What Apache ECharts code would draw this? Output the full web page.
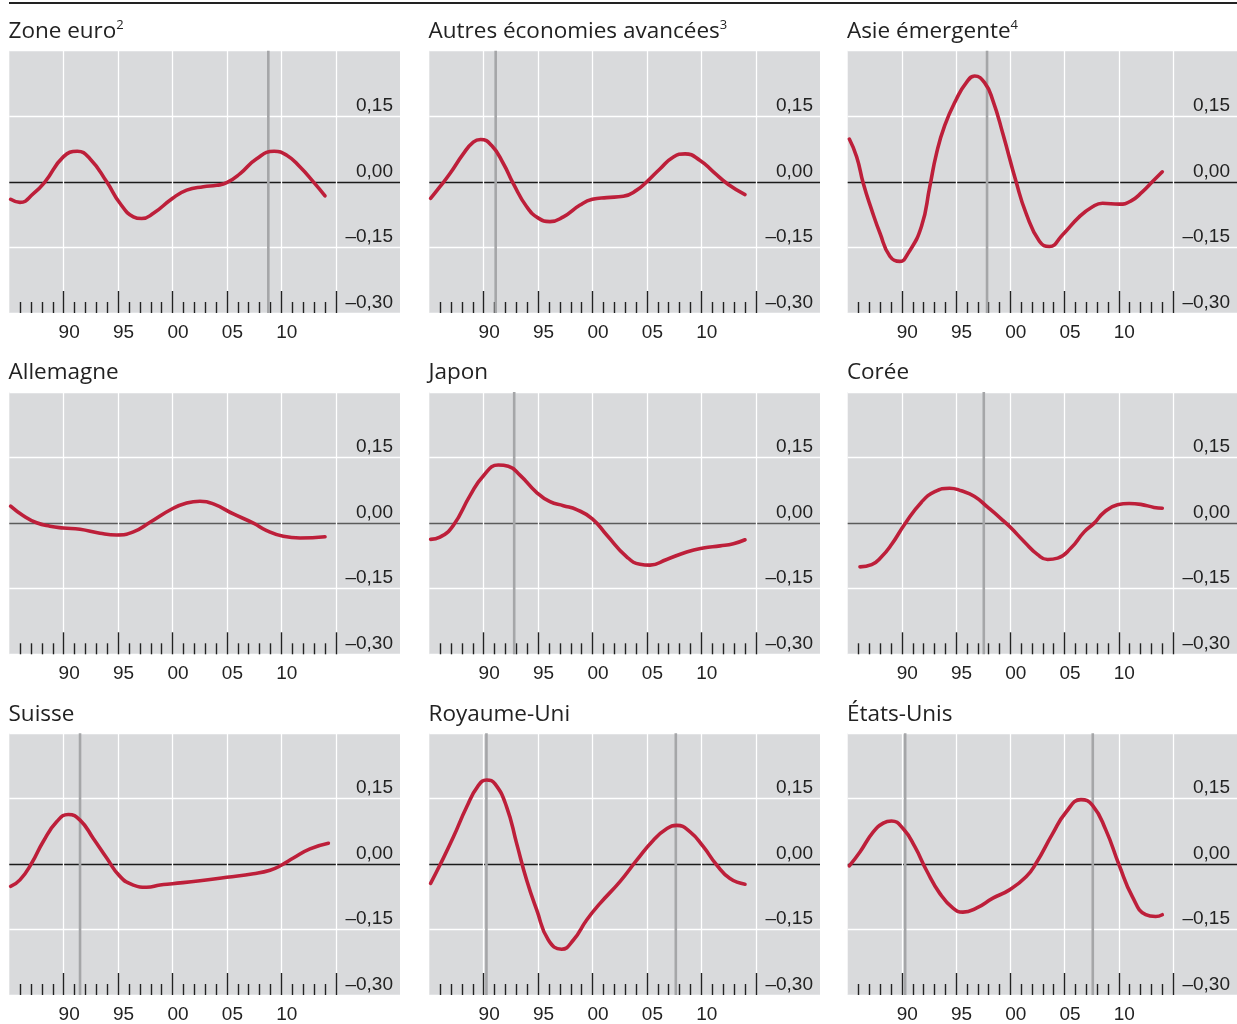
<!DOCTYPE html>
<html>
<head>
<meta charset="utf-8">
<script src="https://cdn.jsdelivr.net/npm/echarts@6/dist/echarts.min.js"></script>
<style>
html,body{margin:0;padding:0;background:#fff;}
#chart{width:1237px;height:1024px;}
</style>
</head>
<body>
<div id="chart"></div>
<script>
// ---------- DATA (year, value) ----------
const ZONE_EURO = [[1985.12,-0.040],[1985.98,-0.047],[1987.21,-0.027],[1988.28,0.000],[1989.96,0.057],[1991.25,0.070],
  [1992.41,0.053],[1993.95,0.000],[1995.17,-0.049],[1996.40,-0.080],[1997.16,-0.084],[1998.24,-0.072],[1999.98,-0.038],
  [2001.30,-0.019],[2002.83,-0.011],[2004.06,-0.008],[2004.98,-0.002],[2006.21,0.019],[2007.73,0.053],[2009.33,0.070],
  [2010.49,0.061],[2011.72,0.034],[2012.94,0.000],[2014.01,-0.032]];
const AUTRES = [[1985.12,-0.038],[1985.98,-0.011],[1986.90,0.019],[1988.12,0.064],[1989.04,0.091],[1989.72,0.097],
  [1990.73,0.083],[1991.80,0.042],[1992.72,-0.004],[1993.95,-0.057],[1995.02,-0.083],[1996.09,-0.091],[1997.32,-0.080],
  [1998.85,-0.053],[1999.98,-0.040],[2001.30,-0.036],[2002.83,-0.033],[2004.06,-0.019],[2004.98,0.000],[2006.21,0.030],
  [2007.43,0.057],[2008.50,0.064],[2009.88,0.049],[2011.10,0.023],[2012.48,-0.006],[2014.01,-0.029]];
const ASIE = [[1985.15,0.098],[1985.83,0.057],[1986.44,-0.004],[1987.21,-0.064],[1987.97,-0.117],[1988.89,-0.170],
  [1989.81,-0.182],[1990.58,-0.163],[1991.80,-0.102],[1992.57,-0.011],[1993.18,0.064],[1993.95,0.129],[1995.02,0.189],
  [1995.94,0.227],[1996.70,0.242],[1997.62,0.227],[1998.39,0.186],[1999.31,0.110],[2000.53,0.000],[2001.45,-0.072],
  [2002.68,-0.136],[2003.60,-0.148],[2004.82,-0.121],[2006.35,-0.080],[2007.58,-0.057],[2008.50,-0.049],[2010.03,-0.051],
  [2011.10,-0.044],[2012.17,-0.023],[2013.09,0.000],[2014.01,0.023]];
const ALLEMAGNE = [[1985.12,0.039],[1986.29,0.017],[1987.51,0.001],[1988.74,-0.007],[1989.96,-0.011],[1991.50,-0.014],
  [1993.33,-0.023],[1994.87,-0.027],[1996.40,-0.020],[1997.93,0.002],[1999.98,0.033],[2001.30,0.046],[2002.52,0.050],
  [2003.75,0.044],[2005.59,0.021],[2007.43,0.000],[2008.65,-0.017],[2010.18,-0.030],[2011.72,-0.034],[2014.01,-0.031]];
const JAPON = [[1985.12,-0.037],[1985.98,-0.032],[1987.21,-0.005],[1988.74,0.063],[1989.96,0.108],[1991.34,0.133],
  [1992.26,0.130],[1993.33,0.110],[1994.87,0.070],[1996.09,0.049],[1997.32,0.040],[1998.54,0.031],[1999.98,0.010],
  [2001.30,-0.027],[2003.14,-0.077],[2004.36,-0.094],[2005.28,-0.096],[2006.81,-0.083],[2008.65,-0.066],[2010.18,-0.057],
  [2011.72,-0.052],[2012.94,-0.047],[2014.01,-0.038]];
const COREE = [[1986.13,-0.100],[1987.21,-0.095],[1988.12,-0.077],[1989.04,-0.049],[1990.27,-0.002],[1991.80,0.048],
  [1993.03,0.072],[1994.41,0.080],[1995.48,0.074],[1996.70,0.061],[1997.93,0.036],[1999.15,0.010],[1999.98,-0.009],
  [2001.30,-0.043],[2002.52,-0.072],[2003.44,-0.083],[2004.36,-0.080],[2005.59,-0.057],[2006.81,-0.020],[2007.73,0.000],
  [2008.65,0.025],[2009.88,0.042],[2010.95,0.045],[2012.02,0.043],[2013.25,0.036],[2014.01,0.034]];
const SUISSE = [[1985.12,-0.051],[1985.98,-0.036],[1987.05,0.002],[1988.12,0.052],[1989.35,0.097],[1990.42,0.114],
  [1991.50,0.101],[1992.72,0.059],[1993.95,0.014],[1995.17,-0.028],[1996.40,-0.048],[1997.62,-0.053],[1998.85,-0.048],
  [1999.98,-0.045],[2002.52,-0.038],[2004.98,-0.030],[2007.43,-0.022],[2008.96,-0.014],[2010.03,-0.002],[2011.10,0.014],
  [2012.63,0.035],[2014.32,0.048]];
const ROYAUME_UNI = [[1985.12,-0.044],[1985.98,-0.002],[1987.21,0.062],[1988.43,0.131],[1989.50,0.180],[1990.27,0.193],
  [1991.04,0.184],[1992.11,0.131],[1993.03,0.047],[1993.95,-0.037],[1994.87,-0.105],[1995.94,-0.174],[1997.16,-0.195],
  [1998.24,-0.174],[1999.46,-0.128],[2000.69,-0.090],[2002.52,-0.040],[2004.06,0.009],[2005.59,0.055],[2006.81,0.081],
  [2007.73,0.089],[2008.96,0.074],[2010.18,0.040],[2011.41,-0.002],[2012.63,-0.033],[2014.01,-0.046]];
const ETATS_UNIS = [[1985.15,-0.004],[1986.13,0.028],[1987.36,0.074],[1988.28,0.094],[1989.04,0.099],[1990.12,0.081],
  [1991.19,0.040],[1992.26,-0.014],[1993.49,-0.067],[1994.71,-0.101],[1995.63,-0.110],[1996.86,-0.101],[1998.39,-0.078],
  [1999.92,-0.059],[2001.45,-0.029],[2002.37,0.002],[2003.90,0.070],[2005.13,0.119],[2006.51,0.148],[2007.58,0.135],
  [2008.81,0.078],[2010.03,-0.002],[2011.26,-0.075],[2012.48,-0.116],[2013.40,-0.120],[2014.01,-0.116]];

// vertical grey marker lines (years)
const EV_ZONE_EURO = [2008.8];
const EV_AUTRES = [1991.1];
const EV_ASIE = [1997.85];
const EV_ALLEMAGNE = [];
const EV_JAPON = [1992.8];
const EV_COREE = [1997.55];
const EV_SUISSE = [1991.5];
const EV_ROYAUME_UNI = [1990.25, 2007.65];
const EV_ETATS_UNIS = [1990.3, 2007.6];

const TITLES = ['Zone euro{sup|2}','Autres économies avancées{sup|3}','Asie émergente{sup|4}',
                'Allemagne','Japon','Corée','Suisse','Royaume-Uni','États-Unis'];

const MAJOR_TICKS = [1990,1995,2000,2005,2010,2015];
const MINOR_TICKS = [1986,1987,1988,1989,1991,1992,1993,1994,1996,1997,1998,1999,
                     2001,2002,2003,2004,2006,2007,2008,2009,2011,2012,2013,2014];
const LABEL_YEARS = [1990,1995,2000,2005,2010];

// ---------- LAYOUT ----------
const SERIES_VALUES = [ZONE_EURO,AUTRES,ASIE,ALLEMAGNE,JAPON,COREE,SUISSE,ROYAUME_UNI,ETATS_UNIS];
const EVENTS = [EV_ZONE_EURO,EV_AUTRES,EV_ASIE,EV_ALLEMAGNE,EV_JAPON,EV_COREE,EV_SUISSE,EV_ROYAUME_UNI,EV_ETATS_UNIS];
const COL_LEFT = [9.3, 429.3, 847.7];
const ROW_TOP = [50.7, 392, 733.3];
const W = 390.7, H = 262.3;
const XMIN = 1985, XMAX = 2020.9;
const RED = '#bd1f3a';
const AXIS_FONT = 'Liberation Sans, Arial, sans-serif';
const TITLE_FONT = 'Open Sans, Noto Sans, sans-serif';

const grids = [], xAxes = [], yAxes = [], series = [], titles = [];

for (let i = 0; i < 9; i++) {
  const c = i % 3, r = Math.floor(i / 3);
  grids.push({left: COL_LEFT[c], top: ROW_TOP[r], width: W, height: H,
              show: true, backgroundColor: '#d9dadc', borderWidth: 0});
  const tickStyle = {color: '#222', width: 1.4};
  xAxes.push({gridIndex: i, type: 'value', min: XMIN, max: XMAX, position: 'bottom',
    axisLine: {show: false, onZero: false}, axisLabel: {show: false},
    axisTick: {show: true, inside: true, length: 22, customValues: MAJOR_TICKS, lineStyle: tickStyle},
    splitLine: {show: true, lineStyle: {color: '#ffffff', width: 1.3}}});
  xAxes.push({gridIndex: i, type: 'value', min: XMIN, max: XMAX, position: 'bottom',
    axisLine: {show: false, onZero: false}, axisLabel: {show: false},
    axisTick: {show: true, inside: true, length: 11, customValues: MINOR_TICKS, lineStyle: tickStyle},
    splitLine: {show: false}});
  xAxes.push({gridIndex: i, type: 'value', min: XMIN - 0.5, max: XMAX - 0.5, position: 'bottom',
    axisLine: {show: false, onZero: false}, axisTick: {show: false}, splitLine: {show: false},
    axisLabel: {show: true, customValues: LABEL_YEARS, margin: 10, fontSize: 19, color: '#222',
      fontFamily: AXIS_FONT, formatter: v => String(Math.round(v) % 100).padStart(2, '0')}});
  const zeroColor = r === 1 ? '#5b5b5b' : '#1a1a1a';
  yAxes.push({gridIndex: i, type: 'value', min: -0.3, max: 0.3, interval: 0.15, position: 'right',
    axisLine: {show: false, onZero: false}, axisTick: {show: false},
    axisLabel: {inside: true, margin: 7, verticalAlign: 'bottom', fontSize: 19, color: '#222',
      fontFamily: AXIS_FONT, padding: [0, 0, 1, 0],
      formatter: v => {
        const rv = Math.round(v * 100) / 100;
        if (rv >= 0.3) return '';
        const s = Math.abs(rv).toFixed(2).replace('.', ',');
        return rv < 0 ? '\u2013' + s : s;
      }},
    splitLine: {show: true, lineStyle: {color: ['#ffffff', '#ffffff', zeroColor, '#ffffff', '#ffffff'], width: 1.3}}});

  EVENTS[i].forEach(ev => {
    series.push({type: 'line', xAxisIndex: 3 * i, yAxisIndex: i, z: 1, silent: true,
      symbol: 'none', data: [[ev, -0.3], [ev, 0.3]],
      lineStyle: {color: '#a5a6a8', width: 2.6}});
  });
  series.push({type: 'line', xAxisIndex: 3 * i, yAxisIndex: i, z: 3, silent: true,
    symbol: 'none', smooth: 0.5,
    data: SERIES_VALUES[i],
    lineStyle: {color: RED, width: 3.6, cap: 'round', join: 'round'}});

  titles.push({text: TITLES[i], left: COL_LEFT[c] - 0.8, top: ROW_TOP[r] - 32, padding: 0,
    textStyle: {fontFamily: TITLE_FONT, fontSize: 22.5, fontWeight: 'normal', color: '#222', lineHeight: 26,
      rich: {sup: {fontFamily: TITLE_FONT, fontSize: 13, color: '#222', verticalAlign: 'top', lineHeight: 8}}}});
}

const chart = echarts.init(document.getElementById('chart'), null, {renderer: 'canvas'});
chart.setOption({
  animation: false,
  backgroundColor: '#ffffff',
  title: titles,
  grid: grids,
  xAxis: xAxes,
  yAxis: yAxes,
  series: series,
  graphic: [{type: 'line', shape: {x1: 9, y1: 3, x2: 1237, y2: 3}, style: {stroke: '#222', lineWidth: 2}}]
});
</script>
</body>
</html>
